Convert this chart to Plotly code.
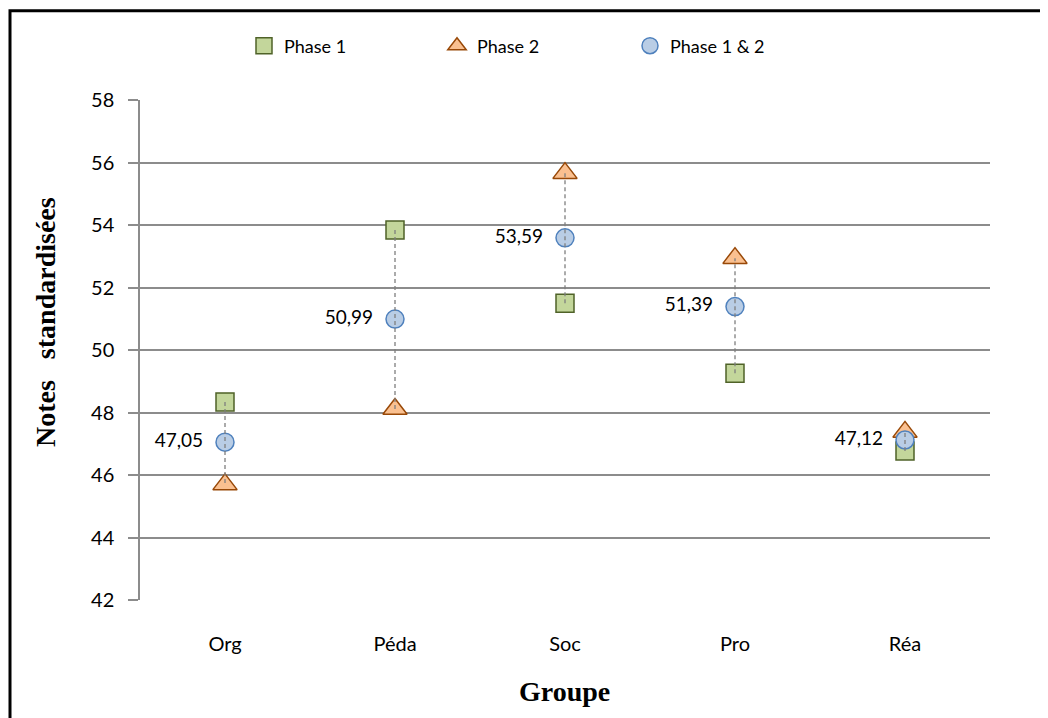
import plotly.graph_objects as go

categories = ["Org", "Péda", "Soc", "Pro", "Réa"]
phase1 = [48.34, 53.84, 51.50, 49.26, 46.77]
phase2 = [45.70, 48.11, 55.66, 52.94, 47.38]
phase12 = [47.05, 50.99, 53.59, 51.39, 47.12]
labels12 = ["47,05", "50,99", "53,59", "51,39", "47,12"]
y_ticks = [42, 44, 46, 48, 50, 52, 54, 56, 58]

NB = "\u00a0\u00a0"

fig = go.Figure()

fig.add_trace(go.Scatter(
    x=categories, y=phase1, mode="markers", name="Phase 1",
    marker=dict(symbol="square", size=18, color="#c3d69b",
                line=dict(color="#4f6228", width=1.5)),
))
fig.add_trace(go.Scatter(
    x=categories, y=phase2, mode="markers", name="Phase 2",
    marker=dict(symbol="triangle-up", size=21, color="#fac090",
                line=dict(color="#984807", width=1.5)),
))
fig.add_trace(go.Scatter(
    x=categories, y=phase12, mode="markers+text", name="Phase 1 & 2",
    text=[t + NB for t in labels12], textposition="middle left",
    textfont=dict(family="Lato, Open Sans, sans-serif", size=19, color="#000000"),
    marker=dict(symbol="circle", size=18, color="#b9cde5",
                line=dict(color="#4f81bd", width=1.5)),
))

# dashed high-low lines
lx, ly = [], []
for c, a, b in zip(categories, phase1, phase2):
    lx += [c, c, None]
    ly += [a, b, None]
fig.add_trace(go.Scatter(
    x=lx, y=ly, mode="lines", showlegend=False, hoverinfo="skip",
    line=dict(color="#7f7f7f", width=1.3, dash="4px,3px"),
))

W, H = 1040, 710
L, T = 132, 92
fig.update_layout(
    width=W, height=H,
    margin=dict(l=L, r=W - L - 850, t=T, b=H - T - 500),
    paper_bgcolor="white", plot_bgcolor="white",
    font=dict(family="Lato, Open Sans, sans-serif", size=19, color="#000000"),
    showlegend=True,
    legend=dict(orientation="h", x=(236 - L) / 850, xanchor="left",
                y=(592 - 38) / 500, yanchor="middle",
                font=dict(size=18), entrywidth=148, traceorder="normal",
                itemsizing="trace"),
    xaxis=dict(
        type="category", range=[-0.5, 4.5], showgrid=False,
        showline=False, ticks="", ticklabelstandoff=30,
        tickfont=dict(size=20),
    ),
    yaxis=dict(
        range=[42, 58], tickvals=y_ticks, showgrid=True,
        gridcolor="#8c8c8c", gridwidth=1.5, zeroline=False,
        showline=True, linecolor="#8c8c8c", linewidth=1.5,
        ticks="outside", ticklen=10, tickcolor="#8c8c8c", tickwidth=1.5,
        ticklabelstandoff=10,
        tickfont=dict(size=20),
    ),
    annotations=[
        dict(text="<b>Notes   standardisées</b>", xref="paper", yref="paper",
             x=(37 - L) / 850, y=(592 - 314) / 500, textangle=-90,
             showarrow=False, xanchor="center", yanchor="middle",
             font=dict(family="Liberation Serif, Times New Roman, serif", size=28)),
        dict(text="<b>Groupe</b>", xref="paper", yref="paper",
             x=(556 - L) / 850, y=(592 - 683) / 500,
             showarrow=False, xanchor="center", yanchor="middle",
             font=dict(family="Liberation Serif, Times New Roman, serif", size=28)),
    ],
    shapes=[
        dict(type="rect", xref="paper", yref="paper",
             x0=(2 - L) / 850, x1=(1070 - L) / 850,
             y0=(592 - 740) / 500, y1=(592 - 2.7) / 500,
             line=dict(color="#000000", width=3), layer="above"),
    ],
)

fig.write_html("out.html")
